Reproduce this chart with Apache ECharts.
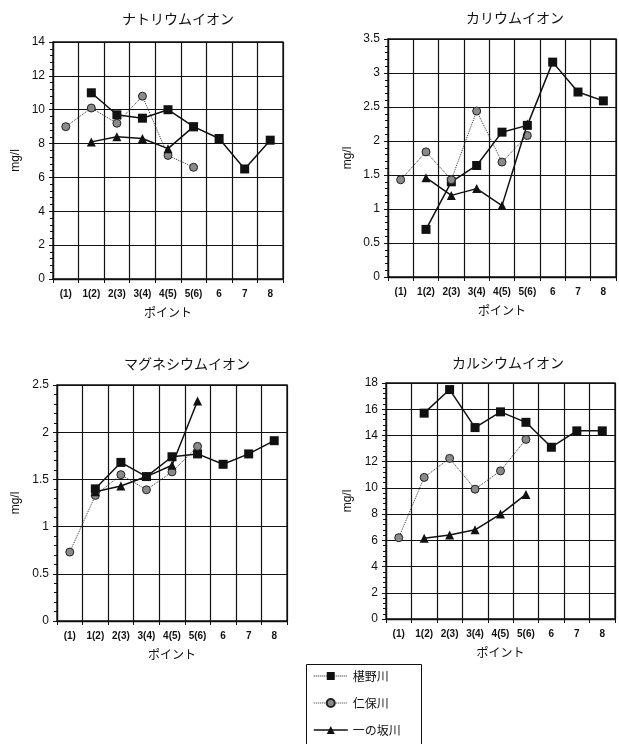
<!DOCTYPE html>
<html><head><meta charset="utf-8">
<script src="https://cdn.jsdelivr.net/npm/echarts@6/dist/echarts.min.js"></script>
<style>html,body{margin:0;padding:0;background:#fff}#c{width:619px;height:744px}</style>
</head><body><div id="c"></div>
<script>
const categories = ['(1)','1(2)','2(3)','3(4)','4(5)','5(6)','6','7','8'];
const seriesNames = ['椹野川','仁保川','一の坂川'];
const titles = ['ナトリウムイオン','カリウムイオン','マグネシウムイオン','カルシウムイオン'];
const yMax = [14, 3.5, 2.5, 18];
const yStep = [2, 0.5, 0.5, 2];
// ナトリウム
const naFushino = [null, 11.0, 9.7, 9.5, 10.0, 9.0, 8.3, 6.5, 8.2];
const naNiho    = [9.0, 10.1, 9.2, 10.8, 7.3, 6.6, null, null, null];
const naIchi    = [null, 8.1, 8.4, 8.3, 7.7, 9.0, null, null, null];
// カリウム
const kFushino = [null, 0.7, 1.4, 1.64, 2.13, 2.23, 3.16, 2.72, 2.59];
const kNiho    = [1.43, 1.84, 1.43, 2.44, 1.69, 2.08, null, null, null];
const kIchi    = [null, 1.46, 1.2, 1.3, 1.05, 2.25, null, null, null];
// マグネシウム
const mgFushino = [null, 1.4, 1.68, 1.53, 1.74, 1.77, 1.66, 1.77, 1.91];
const mgNiho    = [0.73, 1.33, 1.55, 1.39, 1.58, 1.85, null, null, null];
const mgIchi    = [null, 1.37, 1.43, 1.53, 1.65, 2.33, null, null, null];
// カルシウム
const caFushino = [null, 15.7, 17.5, 14.6, 15.8, 15.0, 13.1, 14.35, 14.35];
const caNiho    = [6.2, 10.8, 12.25, 9.9, 11.3, 13.7, null, null, null];
const caIchi    = [null, 6.15, 6.4, 6.8, 8.0, 9.5, null, null, null];

const panelData = [
  [naFushino, naNiho, naIchi],
  [kFushino, kNiho, kIchi],
  [mgFushino, mgNiho, mgIchi],
  [caFushino, caNiho, caIchi]
];

const grids = [
  {left: 53, top: 42, width: 230, height: 237},
  {left: 388, top: 39, width: 228, height: 238},
  {left: 57, top: 385, width: 230, height: 236},
  {left: 386, top: 383, width: 229, height: 236}
];
const titlePos = [[173, 7], [510, 6], [182, 352], [503, 351]];
const nameGaps = [31, 34, 35, 32];

const numFont = 'Liberation Sans, Arial, sans-serif';
const jpFont = '"Noto Sans CJK JP", sans-serif';

const option = {
  animation: false,
  backgroundColor: '#fff',
  title: titles.map((t, i) => ({
    text: t, left: titlePos[i][0], top: titlePos[i][1], textAlign: 'center',
    textStyle: {fontFamily: jpFont, fontSize: 14, fontWeight: 'normal', color: '#111'}
  })),
  graphic: [{
    type: 'rect', left: 304, top: 662, silent: true,
    shape: {width: 115, height: 100},
    style: {fill: 'none', stroke: '#111', lineWidth: 1}
  }],
  grid: grids.map(g => Object.assign({show: true, borderColor: '#111', borderWidth: 1.3, containLabel: false}, g)),
  xAxis: grids.map((g, i) => ({
    type: 'category', gridIndex: i, data: categories, boundaryGap: true,
    name: 'ポイント', nameLocation: 'middle', nameGap: 27,
    nameTextStyle: {fontFamily: jpFont, fontSize: 12, color: '#111'},
    axisLine: {lineStyle: {color: '#111', width: 1.3}},
    axisTick: {show: true, length: 4, lineStyle: {color: '#111'}},
    axisLabel: {fontFamily: numFont, fontSize: 10, fontWeight: 'bold', color: '#111', margin: 10, interval: 0},
    splitLine: {show: true, lineStyle: {color: '#111', width: 1.2}}
  })),
  yAxis: grids.map((g, i) => ({
    type: 'value', gridIndex: i, min: 0, max: yMax[i], interval: yStep[i],
    name: 'mg/l', nameLocation: 'middle', nameGap: nameGaps[i], nameRotate: 90,
    nameTextStyle: {fontFamily: numFont, fontSize: 12, color: '#111'},
    axisLine: {show: true, lineStyle: {color: '#111', width: 1.3}},
    axisTick: {show: true, length: 4, lineStyle: {color: '#111'}},
    minorTick: {show: true, splitNumber: 5, length: 3, lineStyle: {color: '#111'}},
    axisLabel: {fontFamily: numFont, fontSize: 12, color: '#111', margin: 8},
    splitLine: {show: true, lineStyle: {color: '#111', width: 1.2}}
  })),
  legend: {
    orient: 'vertical', left: 304, top: 662,
    padding: [8, 10, 2, 9], itemGap: 15, itemWidth: 34, itemHeight: 10,
    textStyle: {fontFamily: jpFont, fontSize: 12, color: '#111'},
    data: [
      {name: seriesNames[0], lineStyle: {type: 'dotted', width: 1}},
      {name: seriesNames[1], lineStyle: {type: 'dotted', width: 1}},
      {name: seriesNames[2], lineStyle: {type: 'solid', width: 1.5}}
    ]
  },
  series: []
};

const styles = [
  {symbol: 'rect', symbolSize: 9, lineStyle: {color: '#111', width: 1.5, type: 'solid'}, itemStyle: {color: '#111'}},
  {symbol: 'circle', symbolSize: 8, lineStyle: {color: '#333', width: 1, type: 'dotted'}, itemStyle: {color: '#8a8a8a', borderColor: '#222', borderWidth: 1}},
  {symbol: 'triangle', symbolSize: 9, lineStyle: {color: '#111', width: 1.5, type: 'solid'}, itemStyle: {color: '#111'}}
];

panelData.forEach((arrs, p) => {
  arrs.forEach((arr, s) => {
    option.series.push(Object.assign({
      type: 'line', name: seriesNames[s], xAxisIndex: p, yAxisIndex: p,
      data: arr, showSymbol: true, z: 3 + s
    }, JSON.parse(JSON.stringify(styles[s]))));
  });
});

const chart = echarts.init(document.getElementById('c'), null, {renderer: 'canvas'});
chart.setOption(option);
</script></body></html>
